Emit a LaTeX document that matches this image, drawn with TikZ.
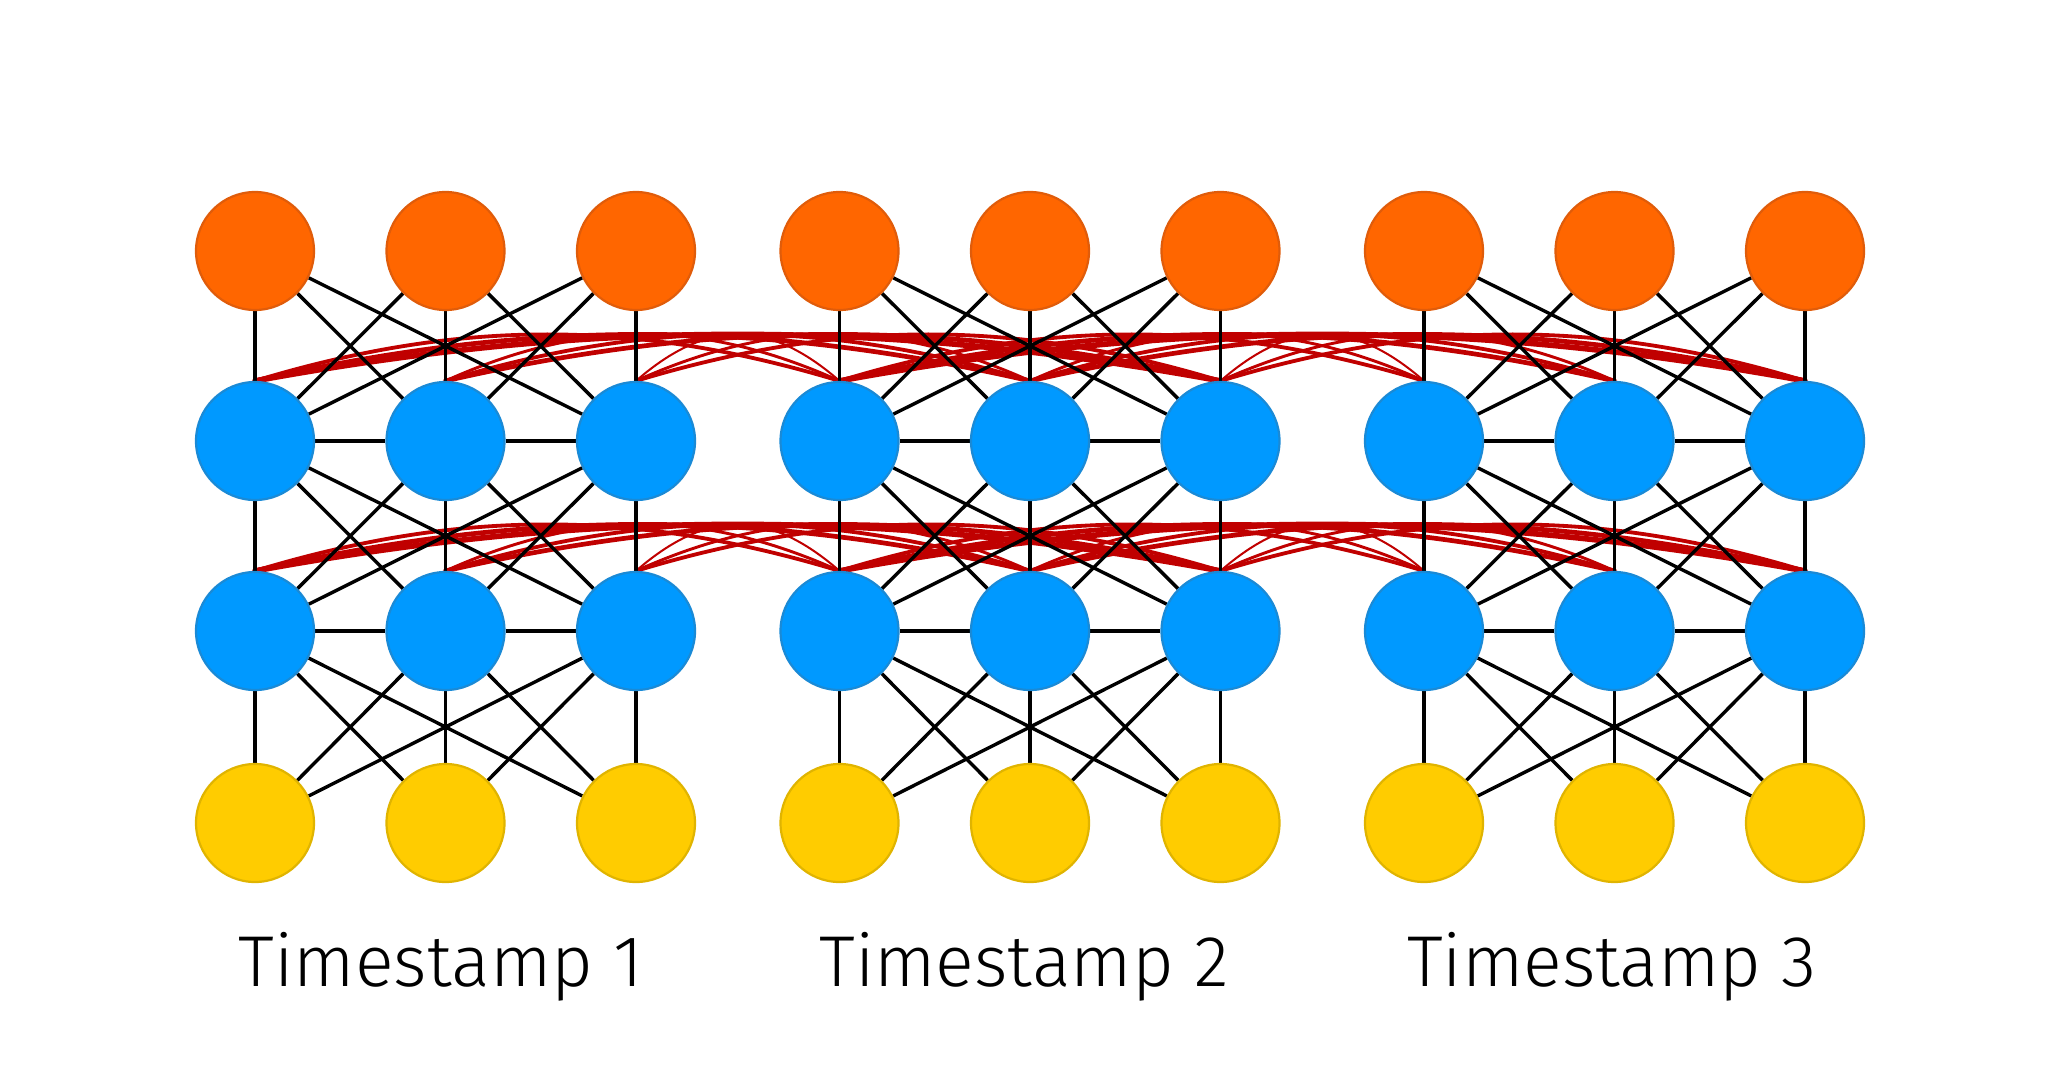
\documentclass[tikz,border=0pt]{standalone}
\usepackage{fontspec}
\setmainfont{Fira Sans Light}
\definecolor{orangeF}{HTML}{FF6600}
\definecolor{orangeD}{HTML}{E05C0A}
\definecolor{blueF}{HTML}{0099FF}
\definecolor{blueD}{HTML}{1A8AD6}
\definecolor{yellowF}{HTML}{FFCC00}
\definecolor{yellowD}{HTML}{E0B400}
\definecolor{recred}{HTML}{C00000}
\pgfdeclarelayer{bg}
\pgfsetlayers{bg,main}
\begin{document}
\begin{tikzpicture}[x=0.5pt,y=-0.5pt,
  neuron/.style={circle, minimum size=59pt, inner sep=0pt, line width=1.1pt},
  outn/.style={neuron, fill=orangeF, draw=orangeD},
  hidn/.style={neuron, fill=blueF, draw=blueD},
  inn/.style={neuron, fill=yellowF, draw=yellowD},
  link/.style={line width=1.7pt, draw=black},
  rec/.style={draw=recred, line cap=round},
  tslabel/.style={font=\fontsize{36}{42}\selectfont, anchor=base, inner sep=0pt}
]
\useasboundingbox (0,0) rectangle (2048,1070);
% nodes
\foreach \t in {1,2,3} {
  \foreach \c in {1,2,3} {
    \pgfmathsetmacro{\xx}{255+(\t-1)*584.5+(\c-1)*190.5}
    \node[outn] (o-\t-\c) at (\xx,251) {};
    \node[hidn] (h1-\t-\c) at (\xx,441) {};
    \node[hidn] (h2-\t-\c) at (\xx,631) {};
    \node[inn] (i-\t-\c) at (\xx,823) {};
  }
}
\begin{pgfonlayer}{bg}
% recurrent red curves
\foreach \r in {h1,h2} {
  \foreach \t/\u in {1/2,2/3} {
    \foreach \i in {1,2,3} {
      \foreach \j in {1,2,3} {
        \pgfmathsetmacro{\dd}{584.5+(\j-\i)*190.5}
        \pgfmathsetmacro{\cx}{0.35*\dd}
        \pgfmathsetmacro{\lw}{1.0+(\dd-200)/765*1.8}
        \draw[rec, line width=\lw pt] (\r-\t-\i.north) .. controls +(\cx,-62) and +(-\cx,-62) .. (\r-\u-\j.north);
      }
    }
  }
}
% feed-forward black links
\foreach \t in {1,2,3} {
  \foreach \a/\b in {o/h1,h1/h2,h2/i} {
    \foreach \i in {1,2,3} {
      \foreach \j in {1,2,3} {
        \draw[link] (\a-\t-\i) -- (\b-\t-\j);
      }
    }
  }
  \foreach \r in {h1,h2} {
    \draw[link] (\r-\t-1) -- (\r-\t-2);
    \draw[link] (\r-\t-2) -- (\r-\t-3);
  }
}
\end{pgfonlayer}
% labels
\node[tslabel] (lab1) at (441,986) {Timestamp 1};
\node[tslabel] (lab2) at (1024,986) {Timestamp 2};
\node[tslabel] (lab3) at (1612,986) {Timestamp 3};
\end{tikzpicture}
\end{document}
